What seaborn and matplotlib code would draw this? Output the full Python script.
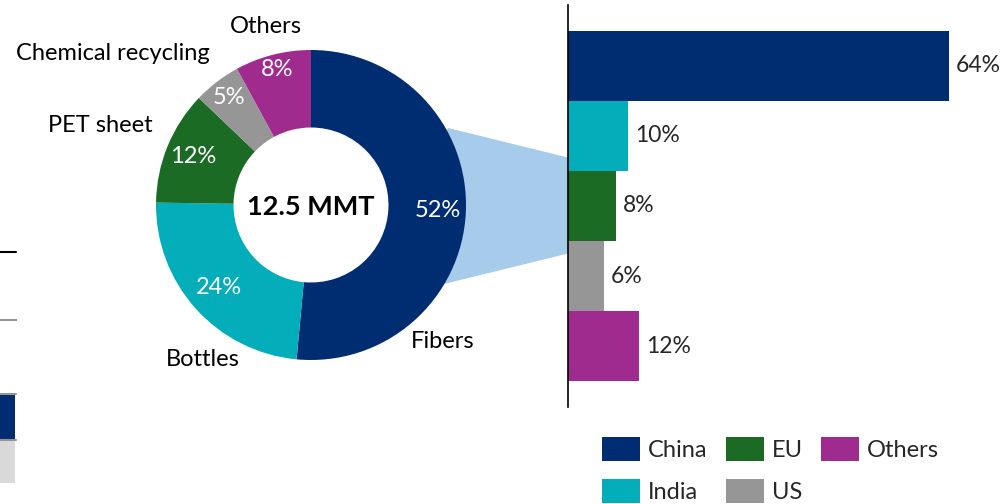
import matplotlib
matplotlib.use("Agg")
import matplotlib.pyplot as plt
from matplotlib.patches import Patch, Polygon
import numpy as np
import pandas as pd
import seaborn as sns

# --- data -------------------------------------------------------------
segments = ["Fibers", "Bottles", "PET sheet", "Chemical recycling", "Others"]
segment_share = [52, 24, 12, 5, 8]
total_label = "12.5 MMT"

regions = ["China", "India", "EU", "US", "Others"]
region_share = [64, 10, 8, 6, 12]

# fragment of the neighbouring stacked column at the left edge
frag_stack = [8.5, 9.1]          # light grey base, navy on top
frag_base = 4.2
frag_levels = [50.0, 36.5]       # reference lines

# --- style ------------------------------------------------------------
NAVY = "#002D72"
TEAL = "#03ADB9"
GREEN = "#1B6B25"
GREY = "#969696"
MAGENTA = "#A02B8F"
LIGHTBLUE = "#A7CBEB"
seg_colors = [NAVY, TEAL, GREEN, GREY, MAGENTA]
reg_colors = [NAVY, TEAL, GREEN, GREY, MAGENTA]

sns.set_theme(style="white")
plt.rcParams["font.family"] = ["Lato", "DejaVu Sans"]
FS = 17

W, H = 1004, 504
fig = plt.figure(figsize=(W / 100, H / 100), dpi=100)


def px_box(x0, y0, x1, y1):
    """Axes rectangle from pixel corners measured from the top-left."""
    return [x0 / W, 1 - y1 / H, (x1 - x0) / W, (y1 - y0) / H]


# --- connector between the Fibers wedge and the bar chart ---------------
conn = Polygon(
    [(448 / W, 1 - 128 / H), (570 / W, 1 - 158 / H),
     (570 / W, 1 - 253 / H), (440 / W, 1 - 285 / H), (400 / W, 1 - 205 / H)],
    closed=True, transform=fig.transFigure, facecolor=LIGHTBLUE,
    edgecolor="none", zorder=-5)
fig.patches.append(conn)

# --- donut ------------------------------------------------------------
cx, cy, R = 311, 205, 155
axp = fig.add_axes(px_box(cx - R, cy - R, cx + R, cy + R))
axp.set_zorder(2)
wedges, _ = axp.pie(segment_share, colors=seg_colors, startangle=90,
                    counterclock=False, radius=1.0,
                    wedgeprops=dict(width=0.5, edgecolor="none"))
axp.set_xlim(-1, 1)
axp.set_ylim(-1, 1)
axp.set_aspect("equal")
axp.axis("off")

pct_radius = [0.82, 0.80, 0.82, 0.87, 0.90]
for w, v, r in zip(wedges, segment_share, pct_radius):
    ang = np.deg2rad((w.theta1 + w.theta2) / 2)
    axp.text(r * np.cos(ang), r * np.sin(ang), f"{v}%", color="white",
             ha="center", va="center", fontsize=FS)

label_pos = {
    "Fibers": (0.85, -0.88),
    "Bottles": (-0.70, -1.00),
    "PET sheet": (-1.36, 0.51),
    "Chemical recycling": (-1.28, 0.98),
    "Others": (-0.29, 1.15),
}
for name in segments:
    x, y = label_pos[name]
    axp.text(x, y, name, ha="center", va="center", fontsize=FS,
             color="black", clip_on=False)

axp.text(0, -0.01, total_label, ha="center", va="center",
         fontsize=19.5, fontweight="bold", color="black")

# --- regional bar chart -------------------------------------------------
axb = fig.add_axes(px_box(568, 5, W, 407))
axb.set_zorder(1)
df = pd.DataFrame({"region": regions, "share": region_share})
sns.barplot(data=df, x="share", y="region", hue="region",
            palette=reg_colors, width=1.0, legend=False, ax=axb,
            saturation=1, edgecolor="none")
axb.set_xlim(0, (W - 568) / (381 / 64))
axb.set_ylim(4.87, -0.87)
for i, v in enumerate(region_share):
    axb.text(v + 1.2, i, f"{v}%", va="center", ha="left", fontsize=16.5)
for s in ["top", "right", "bottom"]:
    axb.spines[s].set_visible(False)
axb.spines["left"].set_color("black")
axb.spines["left"].set_linewidth(1.2)
axb.set_xticks([])
axb.set_yticks([])
axb.set_xlabel("")
axb.set_ylabel("")
axb.patch.set_alpha(0)

handles = [Patch(facecolor=c, edgecolor="none") for c in reg_colors]
fs_px = FS * 100 / 72
fig.legend(handles, regions, ncol=3, loc="upper left",
           bbox_to_anchor=(602 / W, 1 - 437 / H), frameon=False,
           fontsize=FS, handlelength=38 / fs_px, handleheight=28 / fs_px,
           handletextpad=8 / fs_px, columnspacing=18 / fs_px,
           labelspacing=18 / fs_px, borderpad=0, borderaxespad=0)

# --- cropped neighbour column on the far left ---------------------------
axf = fig.add_axes([0, 0, 17 / W, 1])
axf.set_xlim(0, 1)
axf.set_ylim(0, 100)
axf.bar(0, frag_stack[0], bottom=frag_base, width=1.76, color="#D9D9D9",
        edgecolor="none")
axf.bar(0, frag_stack[1], bottom=frag_base + frag_stack[0], width=1.76,
        color=NAVY, edgecolor="none")
axf.axhline(frag_base + frag_stack[0], xmin=0, xmax=0.95, color=GREY, lw=1.5)
axf.axhline(frag_base + sum(frag_stack), xmin=0, xmax=0.95, color=GREY, lw=1.5)
axf.axhline(frag_levels[0], xmin=0, xmax=0.95, color="black", lw=1.5)
axf.axhline(frag_levels[1], xmin=0, xmax=1.0, color=GREY, lw=1.5)
axf.axis("off")

fig.savefig("out.png", dpi=100)
